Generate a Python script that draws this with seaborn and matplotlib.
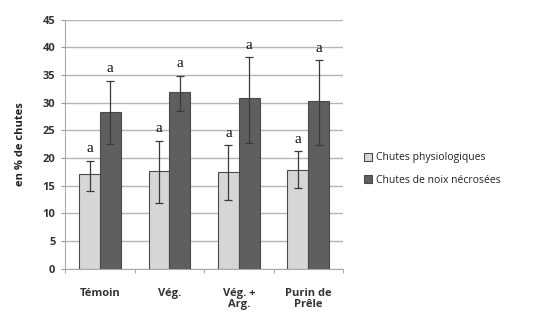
import matplotlib
matplotlib.use("Agg")
import matplotlib.pyplot as plt
import seaborn as sns
import pandas as pd
import numpy as np

categories = ["Témoin", "Vég.", "Vég. +\nArg.", "Purin de\nPrêle"]
series = ["Chutes physiologiques", "Chutes de noix nécrosées"]
physio = [17.1, 17.6, 17.4, 17.9]
physio_lo = [14.0, 11.9, 12.5, 14.6]
physio_hi = [19.5, 23.1, 22.3, 21.2]
necro = [28.4, 31.9, 30.8, 30.3]
necro_lo = [22.6, 28.5, 22.8, 22.4]
necro_hi = [34.0, 34.9, 38.2, 37.7]
letters = ["a", "a", "a", "a"]
yticks = [0, 5, 10, 15, 20, 25, 30, 35, 40, 45]

df = pd.DataFrame({
    "cat": categories * 2,
    "serie": [series[0]] * 4 + [series[1]] * 4,
    "val": physio + necro,
})

sns.set_style("white")
plt.rcParams["font.family"] = ["Open Sans", "DejaVu Sans"]

fig = plt.figure(figsize=(5.48, 3.15), dpi=100)
ax = fig.add_axes([0.119, 0.147, 0.507, 0.790])

light = "#d6d6d6"
dark = "#5f5f5f"
sns.barplot(data=df, x="cat", y="val", hue="serie", order=categories,
            hue_order=series, palette=[light, dark], width=0.6,
            errorbar=None, edgecolor="#4a4a4a", linewidth=0.8, ax=ax,
            legend=True, zorder=3)

# error bars and letters
for i, (cont, vals, lo, hi) in enumerate(zip(ax.containers,
                                             [physio, necro],
                                             [physio_lo, necro_lo],
                                             [physio_hi, necro_hi])):
    for j, p in enumerate(cont.patches):
        xc = p.get_x() + p.get_width() / 2
        v = vals[j]
        ax.errorbar([xc], [v], yerr=[[v - lo[j]], [hi[j] - v]], fmt="none",
                    ecolor="#3a3a3a", elinewidth=0.9, capsize=3, capthick=0.9,
                    zorder=4)
        ax.text(xc, hi[j] + 1.0, letters[j], ha="center", va="bottom",
                fontsize=11, family="Liberation Serif", color="#111111")

ax.set_ylim(0, 45)
ax.set_xlim(-0.5, 3.5)
ax.set_yticks(yticks)
ax.set_yticklabels([str(t) for t in yticks], fontsize=8, fontweight="bold",
                   color="#333333")
ax.set_xticks(range(len(categories)))
ax.set_xticklabels(categories, fontsize=8, fontweight="bold", color="#333333",
                   linespacing=1.0)
ax.tick_params(axis="x", length=0, pad=14)
ax.tick_params(axis="y", length=3, color="#999999", direction="out", pad=4,
               left=True)
# minor ticks at category boundaries
ax.set_xticks([-0.5, 0.5, 1.5, 2.5, 3.5], minor=True)
ax.tick_params(axis="x", which="minor", length=3, color="#999999", bottom=True)

ax.grid(axis="y", color="#b5b5b5", linewidth=1.0, zorder=0)
ax.set_axisbelow(True)
for s in ["top", "right"]:
    ax.spines[s].set_visible(False)
ax.spines["left"].set_color("#aaaaaa")
ax.spines["bottom"].set_color("#aaaaaa")

ax.set_xlabel("")
ax.set_ylabel("en % de chutes", fontsize=8, fontweight="bold", color="#222222",
              labelpad=12)

leg = ax.legend(loc="center left", bbox_to_anchor=(1.04, 0.40), frameon=False,
                fontsize=7.5, handlelength=0.8, handleheight=0.8,
                handletextpad=0.4, labelspacing=1.1)
for t in leg.get_texts():
    t.set_color("#222222")

fig.savefig("out.png", dpi=100, facecolor="white")
